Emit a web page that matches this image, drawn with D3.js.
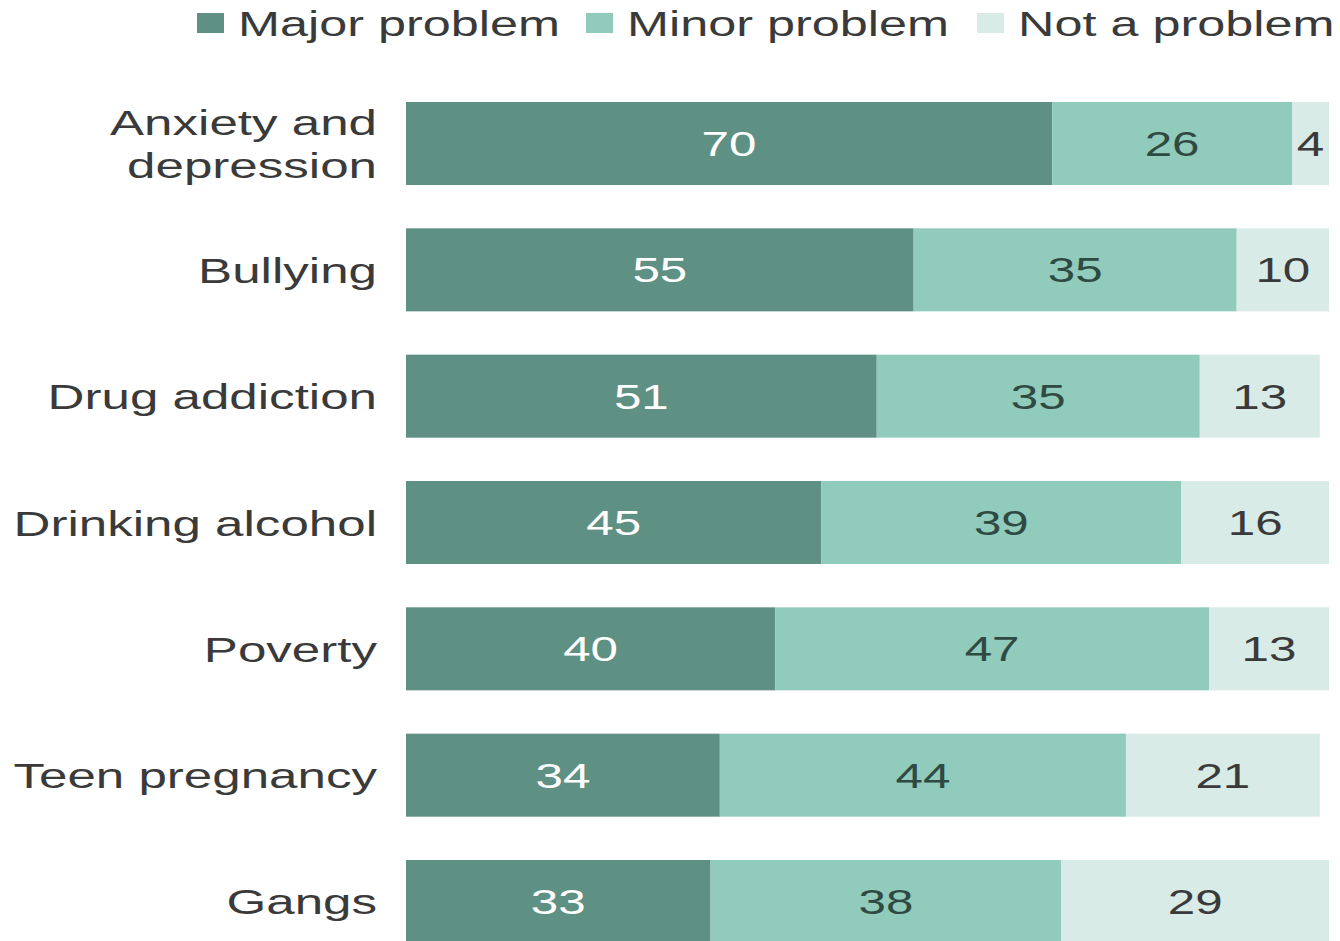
<!DOCTYPE html>
<html><head><meta charset="utf-8">
<script src="https://cdn.jsdelivr.net/npm/d3@7"></script>
<style>html,body{margin:0;padding:0;background:#fff;}svg{display:block;}</style>
</head><body>
<script>
const categories = [["Anxiety and","depression"],["Bullying"],["Drug addiction"],["Drinking alcohol"],["Poverty"],["Teen pregnancy"],["Gangs"]];
const majorProblem = [70,55,51,45,40,34,33];
const minorProblem = [26,35,35,39,47,44,38];
const notAProblem  = [4,10,13,16,13,21,29];
const seriesNames = ["Major problem","Minor problem","Not a problem"];
const colors = ["#5f9084","#90cbbb","#d9ebe6"];
const valueColors = ["#ffffff","#2f4a42","#3a3a3a"];

const W = 1340, H = 941;
const SX = 1.41;  // value text stretch
const SXC = 1.46; // category label stretch
const SXL = 1.44; // legend stretch
const FONT = "'Liberation Sans', Arial, sans-serif";
const svg = d3.select("body").append("svg").attr("width", W).attr("height", H);

const keys = categories.map(c => c.join(" "));
const rows = keys.map((k,i) => ({key:k, v:[majorProblem[i], minorProblem[i], notAProblem[i]]}));

const x = d3.scaleLinear().domain([0,100]).range([406, 1329]);
const y = d3.scaleBand().domain(keys).range([102, 943]).paddingInner(0.343).paddingOuter(0);

function stext(sel, fs){
  return sel.attr("font-family", FONT).attr("font-size", fs);
}

rows.forEach((r,i) => {
  let cum = 0;
  r.v.forEach((val, j) => {
    const x0 = x(cum), x1 = x(cum+val);
    svg.append("rect").attr("x", x0).attr("y", y(r.key)).attr("width", x1-x0).attr("height", y.bandwidth()).attr("fill", colors[j]);
    const cx = (x0+x1)/2, cy = y(r.key) + y.bandwidth()/2;
    stext(svg.append("text"), 35)
      .attr("transform", `translate(${cx},${cy+12.5}) scale(${SX},1)`)
      .attr("text-anchor","middle").attr("fill", valueColors[j]).text(val);
    cum += val;
  });
  const lines = categories[i];
  const cy = y(r.key) + y.bandwidth()/2;
  lines.forEach((ln, li) => {
    const off = (li - (lines.length-1)/2) * 43;
    stext(svg.append("text"), 35)
      .attr("transform", `translate(377,${cy+off+13}) scale(${SXC},1)`)
      .attr("text-anchor","end").attr("fill","#3a3a3a").text(ln);
  });
});

// legend
const legendX = [197, 586, 977];
seriesNames.forEach((n,j) => {
  svg.append("rect").attr("x", legendX[j]).attr("y", 13).attr("width", 27).attr("height", 20).attr("fill", colors[j]);
  stext(svg.append("text"), 35)
    .attr("transform", `translate(${legendX[j]+41},36) scale(${SXL},1)`)
    .attr("fill","#3a3a3a").text(n);
});
</script>
</body></html>
